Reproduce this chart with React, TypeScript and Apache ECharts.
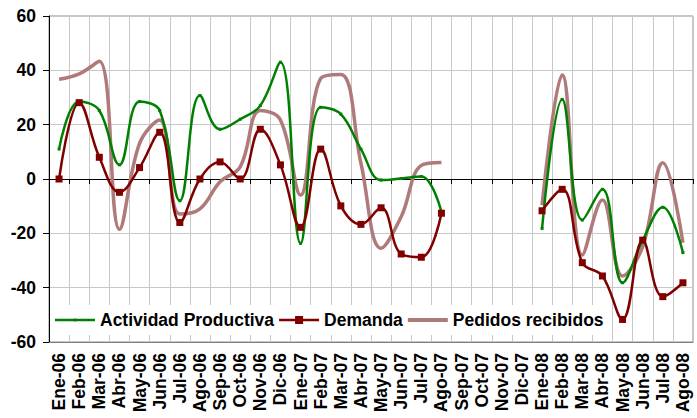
import React, { useEffect, useRef } from "react";
import * as echarts from "echarts";

const categories = [
  "Ene-06", "Feb-06", "Mar-06", "Abr-06", "May-06", "Jun-06", "Jul-06", "Ago-06",
  "Sep-06", "Oct-06", "Nov-06", "Dic-06", "Ene-07", "Feb-07", "Mar-07", "Abr-07",
  "May-07", "Jun-07", "Jul-07", "Ago-07", "Sep-07", "Oct-07", "Nov-07", "Dic-07",
  "Ene-08", "Feb-08", "Mar-08", "Abr-08", "May-08", "Jun-08", "Jul-08", "Ago-08",
];

const actividad: (number | null)[] = [
  11, 28.5, 25.2, 5.2, 28.5, 25.2, -8, 30.7, 18.3, 22, 27, 43,
  -23.7, 26.4, 23.9, 11, -0.4, 0.2, 0.9, -12,
  null, null, null, null,
  -18.2, 29.3, -15.1, -3.8, -38.2, -22.5, -10.4, -27.1,
];

const demanda: (number | null)[] = [
  0, 28.1, 8, -4.9, 4.2, 17.2, -16, 0, 6.3, 0, 18.3, 5.2,
  -17.8, 11, -9.9, -16.7, -10.6, -27.6, -28.8, -12.6,
  null, null, null, null,
  -11.7, -3.8, -30.8, -35.7, -51.7, -22.5, -43.3, -38.2,
];

const pedidos: (number | null)[] = [
  36.7, 38.7, 43.3, -18.5, 13.1, 21.7, -12.9, -11, -1, 4.5, 25.2, 21.7,
  -5.9, 37, 38.5, 5.8, -25.5, -13.9, 5, 6.1,
  null, null, null, null,
  -9.6, 38.3, -28, -7.7, -35.7, -24.9, 6, -23.5,
];

const FONT = "Liberation Sans, Arial, sans-serif";

// icons in a 40x10 box; tiny corner subpaths fix the bounding box
const CORNERS = " M0,0 L0.01,0 L0,0.01 Z M40,10 L39.99,10 L40,9.99 Z";
const ICON_ACT = "path://M0,3.75 L40,3.75 L40,6.25 L0,6.25 Z M18.5,3.5 L21.5,3.5 L21.5,6.5 L18.5,6.5 Z" + CORNERS;
const ICON_DEM = "path://M0,3.75 L40,3.75 L40,6.25 L0,6.25 Z M16,1 L24,1 L24,9 L16,9 Z" + CORNERS;
const ICON_PED = "path://M0,3.1 L40,3.1 L40,6.9 L0,6.9 Z" + CORNERS;

export default function App() {
  const ref = useRef<HTMLDivElement>(null);
  useEffect(() => {
    if (!ref.current) return;
    const chart = echarts.init(ref.current, undefined, { renderer: "svg" });
    chart.setOption({
      animation: false,
      backgroundColor: "#fff",
      grid: {
        left: 49,
        right: 4,
        top: 16,
        bottom: 76,
        show: true,
        borderColor: "#8c8c8c",
        borderWidth: 1,
      },
      legend: {
        left: 51,
        top: 305,
        padding: [6, 4, 6, 4],
        backgroundColor: "#fff",
        itemWidth: 40,
        itemHeight: 10,
        itemGap: 5,
        itemStyle: { borderWidth: 0 },
        textStyle: { color: "#000", fontWeight: "bold", fontSize: 17.5, fontFamily: FONT },
        data: [
          { name: "Actividad Productiva", icon: ICON_ACT, itemStyle: { borderWidth: 0 } },
          { name: "Demanda", icon: ICON_DEM, itemStyle: { borderWidth: 0 } },
          { name: "Pedidos recibidos", icon: ICON_PED, itemStyle: { borderWidth: 0 } },
        ],
      },
      xAxis: [
        {
          type: "category",
          data: categories,
          boundaryGap: true,
          position: "bottom",
          axisLine: { onZero: false, lineStyle: { color: "#808080", width: 1 } },
          axisTick: { show: false },
          axisLabel: {
            rotate: 90,
            interval: 0,
            margin: 11,
            color: "#000",
            fontWeight: "bold",
            fontSize: 17.5,
            fontFamily: FONT,
          },
          splitLine: { show: true, interval: 0, lineStyle: { color: "#c8c8c8", width: 1 } },
        },
        {
          type: "category",
          data: categories,
          boundaryGap: true,
          position: "bottom",
          axisLine: { onZero: true, lineStyle: { color: "#000", width: 1 } },
          axisTick: { show: true, interval: 0, length: 5, lineStyle: { color: "#000" } },
          axisLabel: { show: false },
          splitLine: { show: false },
        },
      ],
      yAxis: {
        type: "value",
        min: -60,
        max: 60,
        interval: 20,
        axisLine: { show: true, lineStyle: { color: "#000", width: 1 } },
        axisTick: { show: true, length: 6, lineStyle: { color: "#000" } },
        axisLabel: {
          margin: 13,
          color: "#000",
          fontWeight: "bold",
          fontSize: 17.5,
          fontFamily: FONT,
        },
        splitLine: { show: true, lineStyle: { color: "#c8c8c8", width: 1 } },
      },
      series: [
        {
          name: "Pedidos recibidos",
          type: "line",
          xAxisIndex: 0,
          data: pedidos,
          smooth: 0.4,
          symbol: "none",
          z: 2,
          lineStyle: { color: "#b07a7a", width: 3.5 },
          itemStyle: { color: "#b07a7a", borderWidth: 0 },
        },
        {
          name: "Actividad Productiva",
          type: "line",
          xAxisIndex: 0,
          data: actividad,
          smooth: 0.4,
          symbol: "rect",
          symbolSize: 3,
          z: 3,
          lineStyle: { color: "#008000", width: 2.5 },
          itemStyle: { color: "#008000" },
        },
        {
          name: "Demanda",
          type: "line",
          xAxisIndex: 0,
          data: demanda,
          smooth: 0.4,
          symbol: "rect",
          symbolSize: 7,
          z: 4,
          lineStyle: { color: "#800000", width: 2.5 },
          itemStyle: { color: "#800000" },
        },
      ],
    });
    return () => chart.dispose();
  }, []);
  return (
    <div
      ref={ref}
      style={{ position: "fixed", left: 0, top: 0, width: 697, height: 418, background: "#fff" }}
    />
  );
}
